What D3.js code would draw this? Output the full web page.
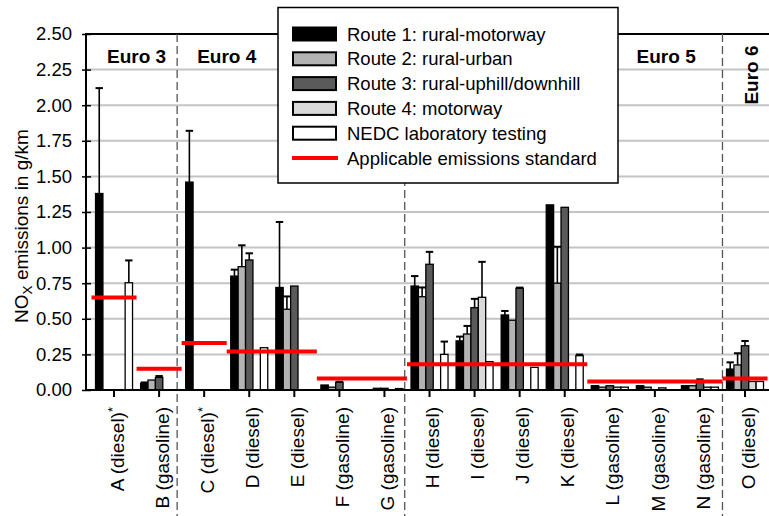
<!DOCTYPE html>
<html>
<head>
<meta charset="utf-8">
<script src="https://cdnjs.cloudflare.com/ajax/libs/d3/7.8.5/d3.min.js"></script>
<style>
  body { margin: 0; background: #fff; }
  svg { display: block; font-family: "Liberation Sans", Arial, sans-serif; }
</style>
</head>
<body>
<svg id="chart" width="769" height="516"></svg>
<script>
const categories = ["A (diesel)*", "B (gasoline)", "C (diesel)*", "D (diesel)", "E (diesel)", "F (gasoline)", "G (gasoline)",
  "H (diesel)", "I (diesel)", "J (diesel)", "K (diesel)", "L (gasoline)", "M (gasoline)", "N (gasoline)", "O (diesel)"];

const routeNames = ["Route 1: rural-motorway", "Route 2: rural-urban", "Route 3: rural-uphill/downhill", "Route 4: motorway", "NEDC laboratory testing"];
const routeColors = ["#000000", "#b3b3b3", "#5a5a5a", "#d9d9d9", "#ffffff"];

// NOx values in g/km, one entry per car
const route1 = [1.38, 0.045, 1.46, 0.80, 0.72, 0.035, 0, 0.73, 0.345, 0.527, 1.30, 0.03, 0.03, 0.03, 0.147];
const route2 = [0, 0.07, 0, 0.866, 0.567, 0.02, 0.012, 0.655, 0.393, 0.49, 0.75, 0.02, 0.02, 0.03, 0.176];
const route3 = [0, 0.088, 0, 0.913, 0.73, 0.054, 0.012, 0.883, 0.578, 0.714, 1.283, 0.03, 0, 0.06, 0.311];
const route4 = [0, 0, 0, 0, 0, 0, 0, 0, 0.651, 0, 0, 0.02, 0.015, 0.02, 0.06];
const nedc   = [0.753, 0, 0, 0.297, 0, 0, 0.01, 0.25, 0.199, 0.159, 0.241, 0.02, 0, 0.02, 0.06];

// upper error (added on top of the value)
const route1Err = [0.74, 0.008, 0.36, 0.045, 0.46, 0, 0, 0.07, 0.03, 0.028, 0, 0, 0, 0, 0.047];
const route2Err = [0, 0, 0, 0.15, 0.09, 0, 0, 0.065, 0.057, 0, 0.256, 0, 0, 0, 0.082];
const route3Err = [0, 0.01, 0, 0.047, 0, 0.004, 0, 0.087, 0.062, 0.005, 0, 0, 0, 0.015, 0.033];
const route4Err = [0, 0, 0, 0, 0, 0, 0, 0, 0.249, 0, 0, 0, 0, 0, 0];
const nedcErr   = [0.157, 0, 0, 0, 0, 0, 0, 0.09, 0, 0, 0.008, 0, 0, 0, 0];

// emission standards: first car, last car, limit
const stdStart = [0, 1, 2, 3, 5, 7, 11, 14];
const stdEnd   = [0, 1, 2, 4, 6, 10, 13, 14];
const stdValue = [0.65, 0.15, 0.33, 0.27, 0.08, 0.18, 0.06, 0.08];

const euroNames = ["Euro 3", "Euro 4", "Euro 5", "Euro 6"];
const euroPos = [0.5, 2.5, 12.25, 14.15];   // in car index units
const dividers = [1.4, 6.45, 13.5];

const yTicks = [0, 0.25, 0.5, 0.75, 1, 1.25, 1.5, 1.75, 2, 2.25, 2.5];

const series = [route1, route2, route3, route4, nedc];
const seriesErr = [route1Err, route2Err, route3Err, route4Err, nedcErr];

const W = 769, H = 516;
const plotLeft = 86, plotTop = 34, plotBottom = 390;

const svg = d3.select("#chart");
svg.append("rect").attr("width", W).attr("height", H).attr("fill", "#fff");

const x = d3.scaleBand().domain(categories).range([91.5, 91.5 + 45.07 * categories.length]).padding(0);
const bw = x.bandwidth();
const xi = d3.scaleLinear().domain([0, categories.length - 1])
  .range([x(categories[0]) + bw / 2, x(categories[categories.length - 1]) + bw / 2]);
const inner = d3.scaleBand().domain(d3.range(5)).range([(bw - 37) / 2, (bw + 37) / 2]);
const y = d3.scaleLinear().domain([0, 2.5]).range([plotBottom, plotTop]);

// grid
svg.append("g").selectAll("line")
  .data(yTicks.filter(d => d > 0 && d < 2.5))
  .enter().append("line")
  .attr("x1", plotLeft).attr("x2", W)
  .attr("y1", d => y(d)).attr("y2", d => y(d))
  .attr("stroke", "#c4c4c4").attr("stroke-width", 2);

// top frame
svg.append("line").attr("x1", plotLeft).attr("x2", W).attr("y1", y(2.5)).attr("y2", y(2.5))
  .attr("stroke", "#000").attr("stroke-width", 2);

// dividers between euro classes
svg.append("g").selectAll("line")
  .data(dividers).enter().append("line")
  .attr("x1", d => xi(d)).attr("x2", d => xi(d))
  .attr("y1", y(2.5)).attr("y2", H)
  .attr("stroke", "#555").attr("stroke-width", 1.3).attr("stroke-dasharray", "8,4");

// bars
const bars = [];
categories.forEach((c, i) => {
  series.forEach((s, r) => {
    if (s[i] > 0) bars.push({ c, r, v: s[i], e: seriesErr[r][i] });
  });
});

const bw2 = inner.bandwidth();
svg.append("g").selectAll("g")
  .data(bars.filter(d => d.e > 0)).enter().append("g")
  .each(function (d) {
    const g = d3.select(this);
    const cx = x(d.c) + inner(d.r) + bw2 / 2;
    g.append("line").attr("x1", cx).attr("x2", cx).attr("y1", y(d.v)).attr("y2", y(d.v + d.e))
      .attr("stroke", "#000").attr("stroke-width", 1.6);
    g.append("line").attr("x1", cx - bw2 / 2).attr("x2", cx + bw2 / 2)
      .attr("y1", y(d.v + d.e)).attr("y2", y(d.v + d.e))
      .attr("stroke", "#000").attr("stroke-width", 2);
  });

svg.append("g").selectAll("rect")
  .data(bars).enter().append("rect")
  .attr("x", d => x(d.c) + inner(d.r))
  .attr("y", d => y(d.v))
  .attr("width", bw2)
  .attr("height", d => y(0) - y(d.v))
  .attr("fill", d => routeColors[d.r])
  .attr("stroke", "#000").attr("stroke-width", 1.3);

// standards
svg.append("g").selectAll("line")
  .data(stdValue).enter().append("line")
  .attr("x1", (d, i) => x(categories[stdStart[i]]))
  .attr("x2", (d, i) => x(categories[stdEnd[i]]) + bw)
  .attr("y1", d => y(d)).attr("y2", d => y(d))
  .attr("stroke", "#ff0000").attr("stroke-width", 4);

// y axis
const yAxis = svg.append("g").attr("transform", `translate(${plotLeft},0)`)
  .call(d3.axisLeft(y).tickValues(yTicks).tickFormat(d3.format(".2f")).tickSize(4).tickPadding(10));
yAxis.select(".domain").remove();
yAxis.selectAll(".tick line").attr("x1", 5).attr("x2", -4).attr("stroke-width", 1.5);
yAxis.selectAll("text").attr("font-size", 18.5).attr("fill", "#000");
yAxis.attr("font-family", null).attr("font-size", null);
svg.append("line").attr("x1", plotLeft).attr("x2", plotLeft).attr("y1", plotTop - 1).attr("y2", plotBottom + 1)
  .attr("stroke", "#000").attr("stroke-width", 2);

// x axis
const xAxis = svg.append("g").attr("transform", `translate(0,${plotBottom})`)
  .call(d3.axisBottom(x).tickSize(7).tickFormat(""));
xAxis.select(".domain").remove();
xAxis.selectAll(".tick line").attr("stroke-width", 2);
svg.append("line").attr("x1", plotLeft).attr("x2", W).attr("y1", plotBottom).attr("y2", plotBottom)
  .attr("stroke", "#000").attr("stroke-width", 2);

const xl = svg.append("g").selectAll("text")
  .data(categories).enter().append("text")
  .attr("transform", d => `translate(${x(d) + bw / 2 + 3},407) rotate(-90)`)
  .attr("text-anchor", "end").attr("dy", "0.35em")
  .attr("font-size", 19);
xl.each(function (d) {
  const t = d3.select(this);
  if (d.endsWith("*")) {
    t.append("tspan").text(d.slice(0, -1));
    t.append("tspan").text("*").attr("font-size", 13).attr("dy", "-0.5em");
  } else {
    t.text(d);
  }
});

// y title
const yt = svg.append("text")
  .attr("transform", "translate(28,226) rotate(-90)")
  .attr("text-anchor", "middle").attr("font-size", 19);
yt.append("tspan").text("NO");
yt.append("tspan").text("X").attr("font-size", 13.5).attr("dy", 4);
yt.append("tspan").text(" emissions in g/km").attr("dy", -4);

// euro class labels
euroNames.forEach((n, i) => {
  const t = svg.append("text").text(n)
    .attr("font-size", 19).attr("font-weight", "bold").attr("text-anchor", "middle");
  if (i === euroNames.length - 1) {
    t.attr("transform", `translate(${xi(euroPos[i]) + 6},75) rotate(-90)`);
  } else {
    t.attr("x", xi(euroPos[i])).attr("y", 63);
  }
});

// legend
const lg = svg.append("g");
lg.append("rect").attr("x", 278).attr("y", 7.5).attr("width", 340).attr("height", 175.5)
  .attr("fill", "#fff").attr("stroke", "#000").attr("stroke-width", 1.5);
const rowY = i => 34 + i * 24.8;
routeNames.forEach((n, i) => {
  lg.append("rect").attr("x", 293).attr("y", rowY(i) - 6.5).attr("width", 43).attr("height", 13)
    .attr("fill", routeColors[i]).attr("stroke", "#000").attr("stroke-width", 2);
  lg.append("text").attr("x", 347).attr("y", rowY(i) + 6.5).attr("font-size", 18.5).text(n);
});
lg.append("line").attr("x1", 292).attr("x2", 338).attr("y1", rowY(5)).attr("y2", rowY(5))
  .attr("stroke", "#ff0000").attr("stroke-width", 4);
lg.append("text").attr("x", 347).attr("y", rowY(5) + 6.5).attr("font-size", 18.5).text("Applicable emissions standard");
</script>
</body>
</html>
